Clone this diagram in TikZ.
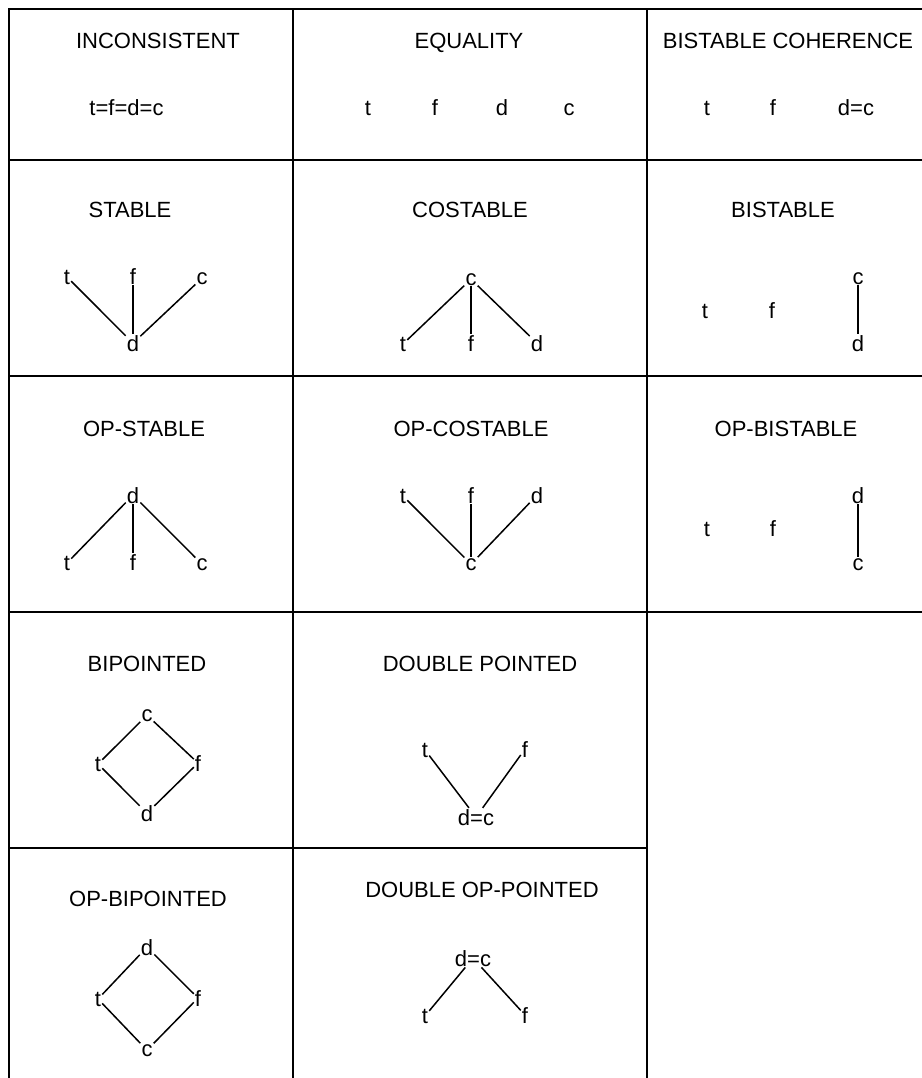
\documentclass[tikz,border=0pt]{standalone}
\usepackage{fontspec}
\setmainfont{Liberation Sans}
\tikzset{
  grid/.style={line width=1.6pt, line cap=rect},
  edge/.style={line width=1.5pt},
  lbl/.style={font=\fontsize{22}{26}\selectfont, inner sep=1pt, anchor=base},
  ttl/.style={font=\fontsize{22}{26}\selectfont, inner sep=1pt, anchor=base}
}
\begin{document}
\begin{tikzpicture}[x=1pt,y=-1pt]
\useasboundingbox (0,0) rectangle (921,1078);
% grid
\coordinate (g1) at (9,9);
\coordinate (g2) at (921,9);
\coordinate (g3) at (9,1078);
\draw[grid] (g1) -- (g2);
\draw[grid] (g1) -- (g3);
\draw[grid] (293,9) -- (293,1078);
\draw[grid] (647,9) -- (647,1078);
\draw[grid] (9,160) -- (921,160);
\draw[grid] (9,376) -- (921,376);
\draw[grid] (9,612) -- (921,612);
\draw[grid] (9,848) -- (647,848);

% row 1
\node[ttl] (T1) at (158,49) {INCONSISTENT};
\node[lbl] (i-all) at (126.5,116) {t=f=d=c};
\node[ttl] (T2) at (469,49) {EQUALITY};
\node[lbl] (e-t) at (368,116) {t};
\node[lbl] (e-f) at (435,116) {f};
\node[lbl] (e-d) at (502,116) {d};
\node[lbl] (e-c) at (569,116) {c};
\node[ttl] (T3) at (788,49) {BISTABLE COHERENCE};
\node[lbl] (bc-t) at (707,116) {t};
\node[lbl] (bc-f) at (773,116) {f};
\node[lbl] (bc-dc) at (856,116) {d=c};

% row 2
\node[ttl] (T4) at (130,217.5) {STABLE};
\node[lbl] (s-t) at (67,284) {t};
\node[lbl] (s-f) at (133,284) {f};
\node[lbl] (s-c) at (202,284) {c};
\node[lbl] (s-d) at (133,351) {d};
\draw[edge] (s-t) -- (s-d);
\draw[edge] (s-f) -- (s-d);
\draw[edge] (s-c) -- (s-d);

\node[ttl] (T5) at (470,217.5) {COSTABLE};
\node[lbl] (cs-c) at (471,285) {c};
\node[lbl] (cs-t) at (403,351) {t};
\node[lbl] (cs-f) at (471,351) {f};
\node[lbl] (cs-d) at (537,351) {d};
\draw[edge] (cs-c) -- (cs-t);
\draw[edge] (cs-c) -- (cs-f);
\draw[edge] (cs-c) -- (cs-d);

\node[ttl] (T6) at (783,217.5) {BISTABLE};
\node[lbl] (bs-t) at (705,318) {t};
\node[lbl] (bs-f) at (772,318) {f};
\node[lbl] (bs-c) at (858,284) {c};
\node[lbl] (bs-d) at (858,351) {d};
\draw[edge] (bs-c) -- (bs-d);

% row 3
\node[ttl] (T7) at (144,436) {OP-STABLE};
\node[lbl] (os-d) at (133,503) {d};
\node[lbl] (os-t) at (67,570) {t};
\node[lbl] (os-f) at (133,570) {f};
\node[lbl] (os-c) at (202,570) {c};
\draw[edge] (os-d) -- (os-t);
\draw[edge] (os-d) -- (os-f);
\draw[edge] (os-d) -- (os-c);

\node[ttl] (T8) at (471,436) {OP-COSTABLE};
\node[lbl] (oc-t) at (403,503) {t};
\node[lbl] (oc-f) at (471,503) {f};
\node[lbl] (oc-d) at (537,503) {d};
\node[lbl] (oc-c) at (471,570) {c};
\draw[edge] (oc-t) -- (oc-c);
\draw[edge] (oc-f) -- (oc-c);
\draw[edge] (oc-d) -- (oc-c);

\node[ttl] (T9) at (786,436) {OP-BISTABLE};
\node[lbl] (ob-t) at (707,536) {t};
\node[lbl] (ob-f) at (773,536) {f};
\node[lbl] (ob-d) at (858,503) {d};
\node[lbl] (ob-c) at (858,570) {c};
\draw[edge] (ob-d) -- (ob-c);

% row 4
\node[ttl] (T10) at (147,671) {BIPOINTED};
\node[lbl] (bp-c) at (147,721) {c};
\node[lbl] (bp-t) at (98,771) {t};
\node[lbl] (bp-f) at (198,771) {f};
\node[lbl] (bp-d) at (147,821) {d};
\draw[edge] (bp-c) -- (bp-t);
\draw[edge] (bp-c) -- (bp-f);
\draw[edge] (bp-t) -- (bp-d);
\draw[edge] (bp-f) -- (bp-d);

\node[ttl] (T11) at (480,671) {DOUBLE POINTED};
\node[lbl] (dp-t) at (425,757) {t};
\node[lbl] (dp-f) at (525,757) {f};
\node[lbl] (dp-dc) at (476,825) {d=c};
\draw[edge] (dp-t) -- (dp-dc);
\draw[edge] (dp-f) -- (dp-dc);

% row 5
\node[ttl] (T12) at (148,906) {OP-BIPOINTED};
\node[lbl] (obp-d) at (147,955) {d};
\node[lbl] (obp-t) at (98,1006) {t};
\node[lbl] (obp-f) at (198,1006) {f};
\node[lbl] (obp-c) at (147,1056) {c};
\draw[edge] (obp-d) -- (obp-t);
\draw[edge] (obp-d) -- (obp-f);
\draw[edge] (obp-t) -- (obp-c);
\draw[edge] (obp-f) -- (obp-c);

\node[ttl] (T13) at (482,897) {DOUBLE OP-POINTED};
\node[lbl] (dop-dc) at (473,966) {d=c};
\node[lbl] (dop-t) at (425,1023) {t};
\node[lbl] (dop-f) at (525,1023) {f};
\draw[edge] (dop-dc) -- (dop-t);
\draw[edge] (dop-dc) -- (dop-f);
\end{tikzpicture}
\end{document}
